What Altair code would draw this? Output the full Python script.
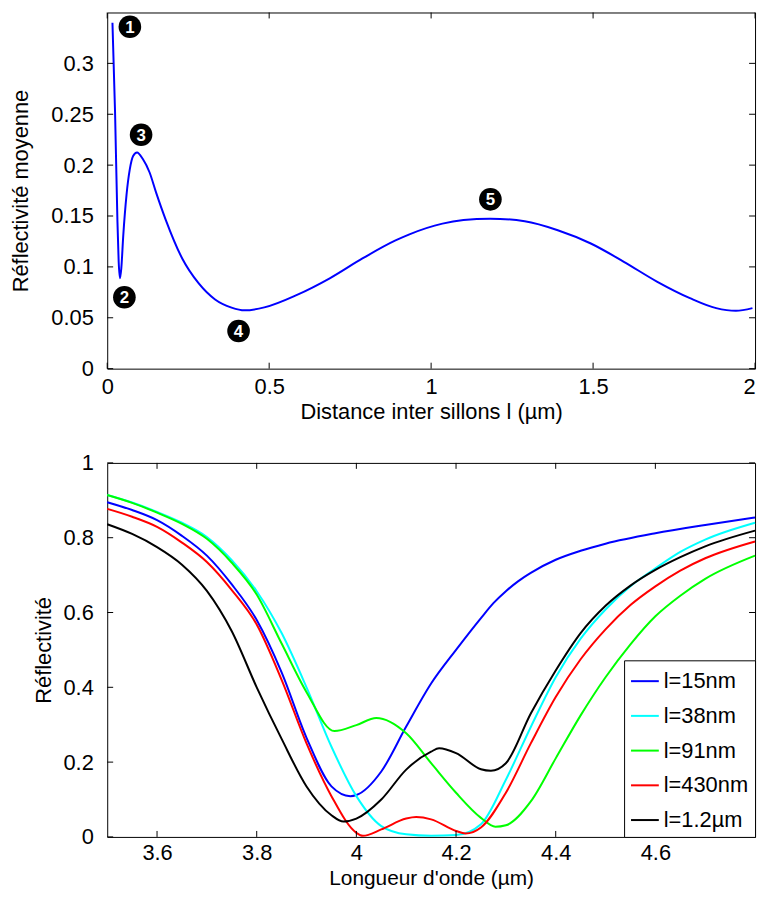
import altair as alt
import pandas as pd

FONT = "Liberation Sans"

# ---------------- Top panel data ----------------
dist_um = [0.0162, 0.0243, 0.0314, 0.0354, 0.0395, 0.0435, 0.0496, 0.0597, 0.0698, 0.080,
           0.092, 0.110, 0.1306, 0.151, 0.181, 0.232, 0.282, 0.333, 0.384, 0.424,
           0.485, 0.586, 0.687, 0.788, 0.890, 0.933, 1.035, 1.10, 1.182, 1.289,
           1.391, 1.493, 1.595, 1.697, 1.799, 1.880, 1.941, 1.992]
refl_moy = [0.340, 0.251, 0.147, 0.105, 0.0888, 0.0986, 0.131, 0.171, 0.196, 0.209,
            0.2124, 0.206, 0.193, 0.173, 0.146, 0.108, 0.084, 0.068, 0.060, 0.0573,
            0.0602, 0.0725, 0.0888, 0.1083, 0.126, 0.132, 0.1425, 0.146, 0.1474, 0.1448,
            0.136, 0.123, 0.105, 0.0856, 0.0693, 0.0595, 0.0569, 0.0595]

marker_labels = ["1", "2", "3", "4", "5"]
marker_x = [0.070, 0.053, 0.1046, 0.4055, 1.183]
marker_y = [0.336, 0.0702, 0.2298, 0.037, 0.1664]

top_xticks = [0, 0.5, 1, 1.5, 2]
top_yticks = [0, 0.05, 0.1, 0.15, 0.2, 0.25, 0.3]

# ---------------- Bottom panel data ----------------
series_names = ["l=15nm", "l=38nm", "l=91nm", "l=430nm", "l=1.2µm"]
series_colors = ["#0000ff", "#00ffff", "#00ff00", "#ff0000", "#000000"]

wl_15 = [3.5, 3.55, 3.6, 3.65, 3.7, 3.75, 3.8, 3.85, 3.9, 3.95, 3.988, 4.0, 4.05, 4.1, 4.15,
         4.2, 4.25, 4.275, 4.3, 4.325, 4.35, 4.4, 4.45, 4.5, 4.6, 4.7, 4.8]
r_15 = [0.895, 0.874, 0.847, 0.805, 0.752, 0.675, 0.58, 0.44, 0.265, 0.135, 0.109, 0.112,
        0.175, 0.295, 0.41, 0.50, 0.585, 0.625, 0.657, 0.684, 0.706, 0.741, 0.765, 0.784,
        0.812, 0.834, 0.854]

wl_38 = [3.5, 3.55, 3.6, 3.65, 3.7, 3.75, 3.8, 3.85, 3.9, 3.95, 4.0, 4.05, 4.1, 4.15, 4.2,
         4.25, 4.3, 4.35, 4.4, 4.45, 4.5, 4.55, 4.6, 4.65, 4.7, 4.8]
r_38 = [0.914, 0.894, 0.869, 0.84, 0.802, 0.74, 0.657, 0.545, 0.40, 0.241, 0.109, 0.029,
        0.007, 0.003, 0.005, 0.034, 0.153, 0.294, 0.427, 0.53, 0.608, 0.67, 0.718, 0.762,
        0.795, 0.84]

wl_91 = [3.5, 3.55, 3.6, 3.65, 3.7, 3.75, 3.8, 3.85, 3.9, 3.956, 4.0, 4.04, 4.1, 4.15, 4.2,
         4.25, 4.279, 4.3, 4.35, 4.4, 4.45, 4.5, 4.55, 4.6, 4.65, 4.7, 4.8]
r_91 = [0.914, 0.893, 0.867, 0.837, 0.797, 0.733, 0.648, 0.517, 0.387, 0.283, 0.299, 0.318,
        0.277, 0.197, 0.118, 0.051, 0.027, 0.031, 0.095, 0.21, 0.325, 0.427, 0.515, 0.59,
        0.645, 0.69, 0.752]

wl_430 = [3.5, 3.55, 3.6, 3.65, 3.7, 3.75, 3.8, 3.85, 3.9, 3.95, 4.0, 4.013, 4.05, 4.1, 4.12,
          4.15, 4.2, 4.219, 4.25, 4.3, 4.35, 4.4, 4.45, 4.5, 4.55, 4.6, 4.65, 4.7, 4.8]
r_430 = [0.877, 0.856, 0.829, 0.787, 0.735, 0.66, 0.568, 0.42, 0.25, 0.109, 0.011, 0.003,
         0.02, 0.049, 0.053, 0.047, 0.016, 0.009, 0.025, 0.118, 0.25, 0.374, 0.475, 0.555,
         0.62, 0.67, 0.712, 0.745, 0.79]

wl_1200 = [3.5, 3.55, 3.6, 3.65, 3.7, 3.75, 3.8, 3.85, 3.9, 3.95, 3.974, 4.0, 4.05, 4.1, 4.15,
           4.166, 4.2, 4.25, 4.27, 4.3, 4.35, 4.4, 4.45, 4.5, 4.55, 4.6, 4.65, 4.7, 4.8]
r_1200 = [0.836, 0.81, 0.775, 0.728, 0.658, 0.55, 0.40, 0.262, 0.135, 0.058, 0.041, 0.049,
          0.10, 0.18, 0.228, 0.237, 0.224, 0.181, 0.177, 0.197, 0.33, 0.445, 0.545, 0.618,
          0.672, 0.714, 0.748, 0.777, 0.819]

bot_xticks = [3.6, 3.8, 4.0, 4.2, 4.4, 4.6]
bot_yticks = [0, 0.2, 0.4, 0.6, 0.8, 1]

# ---------------- Build tables ----------------
df_top = pd.DataFrame({"x": dist_um, "y": refl_moy})
df_mark = pd.DataFrame({"x": marker_x, "y": marker_y, "t": marker_labels})
df_txt = pd.DataFrame({"x": top_xticks})
df_tyt = pd.DataFrame({"y": top_yticks})

rows = []
for name, xs, ys in zip(series_names,
                        [wl_15, wl_38, wl_91, wl_430, wl_1200],
                        [r_15, r_38, r_91, r_430, r_1200]):
    for i, (a, b) in enumerate(zip(xs, ys)):
        rows.append({"x": a, "y": b, "s": name, "o": i})
df_bot = pd.DataFrame(rows)
df_bxt = pd.DataFrame({"x": bot_xticks})
df_byt = pd.DataFrame({"y": bot_yticks})

W = 653
H1 = 359
H2 = 377
TICK = 6

# ---------------- Top chart ----------------
xs1 = alt.Scale(domain=[0, 2], nice=False, zero=False)
ys1 = alt.Scale(domain=[0, 0.35], nice=False)
xa1 = alt.Axis(values=top_xticks, format="~g", title="Distance inter sillons l (µm)",
               titleY=33, titleBaseline="top", labelPadding=8,
               labelAlign={"condition": {"test": "datum.value == 2", "value": "right"},
                           "value": "center"})
ya1 = alt.Axis(values=top_yticks, format="~g", title="Réflectivité moyenne", titlePadding=19)
X1 = lambda f="x": alt.X(f + ":Q", scale=xs1, axis=xa1)
Y1 = lambda f="y": alt.Y(f + ":Q", scale=ys1, axis=ya1)

top_line = alt.Chart(df_top).mark_line(color="#0000ff", strokeWidth=2,
                                       interpolate="monotone").encode(
    x=X1(), y=Y1(), order="x:Q")


def xtick_layers(df, X, h):
    bottom = alt.Chart(df).mark_rule(color="black", strokeWidth=1).encode(
        x=X(), y=alt.value(h), y2=alt.value(h - TICK))
    top = alt.Chart(df).mark_rule(color="black", strokeWidth=1).encode(
        x=X(), y=alt.value(0), y2=alt.value(TICK))
    return [bottom, top]


def ytick_layers(df, Y, w):
    left = alt.Chart(df).mark_rule(color="black", strokeWidth=1).encode(
        y=Y(), x=alt.value(0), x2=alt.value(TICK))
    right = alt.Chart(df).mark_rule(color="black", strokeWidth=1).encode(
        y=Y(), x=alt.value(w - TICK), x2=alt.value(w))
    return [left, right]


top_circles = alt.Chart(df_mark).mark_circle(size=520, color="black", opacity=1).encode(
    x=X1(), y=Y1())
top_digits = alt.Chart(df_mark).mark_text(color="white", fontSize=17, fontWeight="bold",
                                          font=FONT, baseline="middle", align="center", dy=1).encode(
    x=X1(), y=Y1(), text="t:N")

top_chart = alt.layer(
    top_line, *xtick_layers(df_txt, X1, H1), *ytick_layers(df_tyt, Y1, W), top_circles, top_digits
).properties(width=W, height=H1)

# ---------------- Bottom chart ----------------
xs2 = alt.Scale(domain=[3.5, 4.8], nice=False, zero=False)
ys2 = alt.Scale(domain=[0, 1], nice=False)
xa2 = alt.Axis(values=bot_xticks, format="~g", title="Longueur d'onde (µm)",
               titleY=31, titleBaseline="top", labelPadding=6, titleFontSize=21)
ya2 = alt.Axis(values=bot_yticks, format="~g", title="Réflectivité", titlePadding=8)
X2 = lambda f="x": alt.X(f + ":Q", scale=xs2, axis=xa2)
Y2 = lambda f="y": alt.Y(f + ":Q", scale=ys2, axis=ya2)

bot_lines = alt.Chart(df_bot).mark_line(strokeWidth=2, interpolate="monotone").encode(
    x=X2(), y=Y2(),
    color=alt.Color("s:N", scale=alt.Scale(domain=series_names, range=series_colors),
                    sort=series_names,
                    legend=alt.Legend(orient="bottom-right", title=None, offset=0,
                                      strokeColor="black", fillColor="white", padding=6,
                                      labelFont=FONT, labelFontSize=22, labelColor="black",
                                      symbolType="stroke", symbolSize=784, symbolStrokeWidth=2,
                                      rowPadding=9, labelOffset=4, cornerRadius=0)),
    order="o:Q",
)

bot_chart = alt.layer(
    bot_lines, *xtick_layers(df_bxt, X2, H2), *ytick_layers(df_byt, Y2, W)
).properties(width=W, height=H2)

chart = alt.vconcat(top_chart, bot_chart, spacing=95, bounds="flush").resolve_scale(
    color="independent"
).properties(
    padding={"left": 0, "top": 0, "right": 0, "bottom": 0}
).configure_view(
    stroke="black", strokeWidth=1
).configure_axis(
    domain=False, ticks=False, tickSize=0, grid=False,
    labelFont=FONT, labelFontSize=22, labelColor="black", labelPadding=12,
    titleFont=FONT, titleFontSize=22, titleFontWeight="normal", titleColor="black",
    labelFlush=False, labelOverlap=False, labelBound=False,
).configure_axisY(
    labelPadding=14
)

chart.save("out.html", embed_options={"renderer": "svg", "actions": False})
